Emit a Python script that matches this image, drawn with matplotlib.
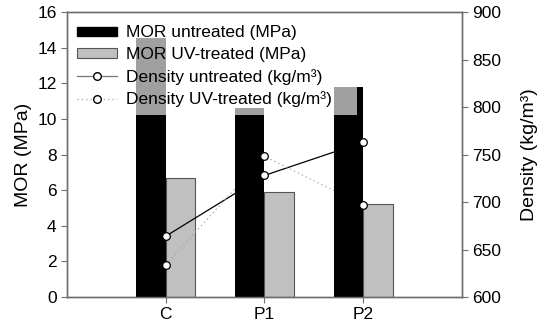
import numpy as np
import matplotlib
matplotlib.use("Agg")
import matplotlib.pyplot as plt
from matplotlib.lines import Line2D
from matplotlib.patches import Patch

plt.rcParams['font.family'] = ['Liberation Sans', 'DejaVu Sans']

# -----------------------------
# Data
# -----------------------------
groups = ["C", "P1", "P2"]
mor_untreated = [14.55, 10.6, 11.8]      # MPa
mor_uv = [6.7, 5.9, 5.22]                # MPa
overlay_base = 10.2                      # gray shading starts here on the black bars
dens_untreated = [664, 728, 763]         # kg/m3
dens_uv = [634, 748, 697]                # kg/m3

x = np.arange(len(groups))
w = 0.3
spine_col = "#6e6e6e"

fig = plt.figure(figsize=(5.5, 3.34), dpi=100)
ax = fig.add_axes([0.1218, 0.1108, 0.718, 0.853])
ax2 = ax.twinx()

ax.set_xlim(-1, 3)
ax.set_ylim(0, 16)
ax2.set_ylim(600, 900)

# bars: black untreated, light gray UV-treated
ax.bar(x - w / 2, mor_untreated, w, color="black", zorder=3)
over_w = [w, w, 0.24]
over_h = [h - overlay_base for h in mor_untreated]
ax.bar(x - w / 2 - (w - np.array(over_w)) / 2, over_h, over_w, bottom=overlay_base,
       color="#a0a0a0", zorder=3.5)
ax.bar(x + w / 2, mor_uv, w, color="#c0c0c0", edgecolor="#555555", linewidth=0.8, zorder=1)

# density lines: above gray bars, below black bars, markers on top
ax.plot(x, dens_untreated, color="black", lw=0.9, transform=ax2.transData, zorder=2)
ax.plot(x, dens_uv, color="#a5a5a5", lw=0.9, ls=(0, (1, 2.5)), transform=ax2.transData, zorder=2)
ax.plot(x, dens_untreated, ls="none", marker="o", ms=5.5, mfc="white", mec="black",
        mew=0.9, transform=ax2.transData, zorder=5)
ax.plot(x, dens_uv, ls="none", marker="o", ms=5.5, mfc="white", mec="black",
        mew=0.9, transform=ax2.transData, zorder=5)
ax.set_xlim(-1, 3)
ax.set_ylim(0, 16)

ax.set_xticks(x)
ax.set_xticklabels(groups)
ax.set_yticks(np.arange(0, 17, 2))
ax2.set_yticks(np.arange(600, 901, 50))
ax.set_ylabel("MOR (MPa)", fontsize=14, labelpad=4)
ax2.set_ylabel("Density (kg/m³)", fontsize=14, labelpad=14)

for a in (ax, ax2):
    for s in a.spines.values():
        s.set_color(spine_col)
        s.set_linewidth(1.0)
    a.tick_params(labelsize=12.5, colors="black", length=4, width=0.8, direction="out")
    a.tick_params(color=spine_col)

handles = [
    Patch(facecolor="black", edgecolor="black"),
    Patch(facecolor="#c0c0c0", edgecolor="#555555", linewidth=0.8),
    Line2D([], [], color="#777777", lw=0.9, marker="o", ms=5.5, mfc="white", mec="black"),
    Line2D([], [], color="#a5a5a5", lw=0.9, ls=(0, (1, 2.5)), marker="o", ms=5.5,
           mfc="white", mec="black"),
]
labels = ["MOR untreated (MPa)", "MOR UV-treated (MPa)",
          "Density untreated (kg/m³)", "Density UV-treated (kg/m³)"]
leg = ax2.legend(handles, labels, loc="upper left", bbox_to_anchor=(0.025, 0.953),
                 frameon=False, fontsize=12.5, borderpad=0, borderaxespad=0,
                 handlelength=2.3, handleheight=0.45, handletextpad=0.55, labelspacing=0.38)

fig.savefig("out.png", dpi=100)
